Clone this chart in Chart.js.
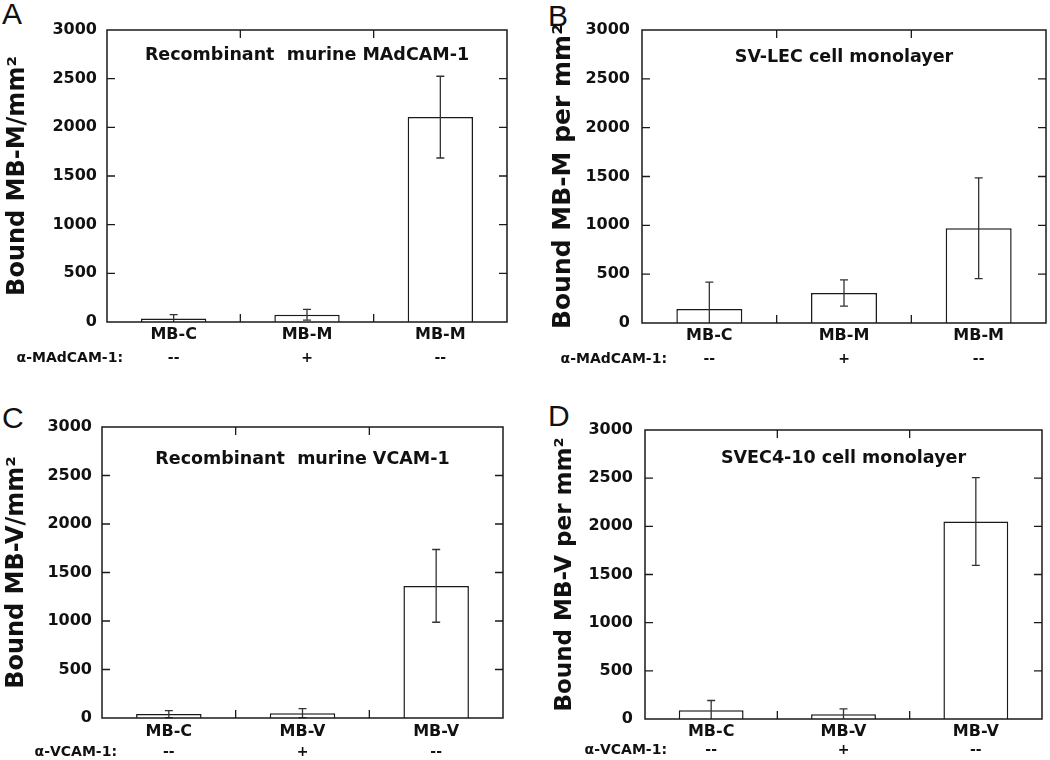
<!DOCTYPE html>
<html>
<head>
<meta charset="utf-8">
<script src="https://cdn.jsdelivr.net/npm/chart.js@4.4.1/dist/chart.umd.min.js"></script>
<style>
  html, body { margin: 0; padding: 0; background: #fff; }
  body { width: 1050px; height: 760px; position: relative; overflow: hidden; }
  canvas { position: absolute; }
  .letter { position: absolute; font: 30px 'Liberation Sans', Arial, sans-serif; line-height: 1; color: #111; }
</style>
</head>
<body>
<div class="letter" style="left:2px;top:-1px">A</div>
<div class="letter" style="left:548px;top:1px">B</div>
<div class="letter" style="left:2px;top:403px">C</div>
<div class="letter" style="left:548px;top:401px">D</div>
<canvas id="chartA" width="525" height="380" style="left:0;top:0"></canvas>
<canvas id="chartB" width="525" height="380" style="left:525px;top:0"></canvas>
<canvas id="chartC" width="525" height="380" style="left:0;top:380px"></canvas>
<canvas id="chartD" width="525" height="380" style="left:525px;top:380px"></canvas>
<script>
// ---- data ----
const yTickValues = [0, 500, 1000, 1500, 2000, 2500, 3000];

const groupsA = ['MB-C', 'MB-M', 'MB-M'];
const antiA   = ['--', '+', '--'];
const meansA  = [35, 75, 2105];
const errA    = [40, 55, 420];

const groupsB = ['MB-C', 'MB-M', 'MB-M'];
const antiB   = ['--', '+', '--'];
const meansB  = [143, 307, 970];
const errB    = [276, 135, 515];

const groupsC = ['MB-C', 'MB-V', 'MB-V'];
const antiC   = ['--', '+', '--'];
const meansC  = [40, 50, 1362];
const errC    = [36, 46, 375];

const groupsD = ['MB-C', 'MB-V', 'MB-V'];
const antiD   = ['--', '+', '--'];
const meansD  = [90, 50, 2050];
const errD    = [102, 55, 455];

const INK = '#1a1a1a';
const FONT = "'DejaVu Sans', sans-serif";

// box, inward ticks, error bars, inner title, antibody row
const panelDecor = {
  id: 'panelDecor',
  afterDatasetsDraw(chart, args, o) {
    const { ctx, chartArea: a, scales: { x, y } } = chart;
    const meta = chart.getDatasetMeta(0);
    ctx.save();
    // error bars
    ctx.strokeStyle = '#333';
    ctx.lineWidth = 1.3;
    meta.data.forEach((bar, i) => {
      const v = o.means[i], e = o.errs[i];
      const yt = y.getPixelForValue(v + e);
      const yb = y.getPixelForValue(Math.max(0, v - e));
      ctx.beginPath();
      ctx.moveTo(bar.x, yt); ctx.lineTo(bar.x, yb);
      ctx.moveTo(bar.x - 4, yt); ctx.lineTo(bar.x + 4, yt);
      if (v - e > 0) { ctx.moveTo(bar.x - 4, yb); ctx.lineTo(bar.x + 4, yb); }
      ctx.stroke();
    });
    // frame
    ctx.strokeStyle = INK;
    ctx.lineWidth = 1.5;
    ctx.strokeRect(a.left, a.top, a.right - a.left, a.bottom - a.top);
    ctx.lineWidth = 1.3;
    ctx.beginPath();
    y.ticks.forEach(t => {
      if (t.value <= 0 || t.value >= 3000) return;
      const py = y.getPixelForValue(t.value);
      ctx.moveTo(a.left, py); ctx.lineTo(a.left + 8, py);
      ctx.moveTo(a.right, py); ctx.lineTo(a.right - 8, py);
    });
    for (let i = 0; i < o.labels.length - 1; i++) {
      const px = (x.getPixelForValue(i) + x.getPixelForValue(i + 1)) / 2;
      ctx.moveTo(px, a.top); ctx.lineTo(px, a.top + 8);
      ctx.moveTo(px, a.bottom); ctx.lineTo(px, a.bottom - 8);
    }
    ctx.stroke();
    // inner title
    ctx.fillStyle = '#111';
    ctx.font = 'bold 17.5px ' + FONT;
    ctx.textAlign = 'center';
    ctx.textBaseline = 'middle';
    ctx.fillText(o.title, (a.left + a.right) / 2, a.top + o.titleDy);
    // antibody row
    const ry = a.bottom + o.rowDy;
    ctx.font = 'bold 14px ' + FONT;
    ctx.textAlign = 'right';
    ctx.fillText(o.rowLabel, a.left + o.rowLabelDx, ry);
    ctx.textAlign = 'center';
    o.signs.forEach((s, i) => ctx.fillText(s, x.getPixelForValue(i), ry));
    ctx.restore();
  }
};

function makePanel(id, p) {
  const el = document.getElementById(id);
  return new Chart(el, {
    type: 'bar',
    data: {
      labels: p.labels,
      datasets: [{
        data: p.means,
        backgroundColor: '#fff',
        borderColor: INK,
        borderWidth: 1.5,
        borderSkipped: 'bottom',
        barPercentage: 0.49,
        categoryPercentage: 1
      }]
    },
    options: {
      responsive: false,
      animation: false,
      layout: { padding: { top: p.padTop, right: p.padRight, left: 0, bottom: 0 } },
      plugins: { legend: { display: false }, tooltip: { enabled: false }, panelDecor: p },
      scales: {
        x: {
          grid: { display: false, drawTicks: false },
          border: { display: false },
          ticks: { color: '#111', font: { family: FONT, weight: 'bold', size: 16 }, padding: p.xPad, maxRotation: 0 },
          afterFit(s) { s.height = p.xHeight; }
        },
        y: {
          min: 0, max: 3000,
          grid: { display: false, drawTicks: false },
          border: { display: false },
          afterBuildTicks(s) { s.ticks = yTickValues.map(v => ({ value: v })); },
          ticks: { color: '#111', font: { family: FONT, weight: 'bold', size: 16 }, padding: p.yPad, callback: v => String(v) },
          title: { display: true, text: p.yTitle, color: '#111', font: { family: FONT, weight: 'bold', size: p.yTitleSize }, padding: { top: p.yTitlePad, bottom: 0 } },
          afterFit(s) { s.width = p.yWidth; }
        }
      }
    },
    plugins: [panelDecor]
  });
}

makePanel('chartA', {
  labels: groupsA, means: meansA, errs: errA, signs: antiA,
  title: 'Recombinant  murine MAdCAM-1', titleDy: 25,
  rowLabel: 'α-MAdCAM-1:', rowLabelDx: 16, rowDy: 36,
  yTitle: 'Bound MB-M/mm²', yTitleSize: 24, yTitlePad: 3,
  padTop: 30, padRight: 18, xHeight: 58, yWidth: 107, xPad: 3, yPad: 10
});
makePanel('chartB', {
  labels: groupsB, means: meansB, errs: errB, signs: antiB,
  title: 'SV-LEC cell monolayer', titleDy: 27,
  rowLabel: 'α-MAdCAM-1:', rowLabelDx: 25, rowDy: 36,
  yTitle: 'Bound MB-M per mm²', yTitleSize: 25, yTitlePad: 23,
  padTop: 30, padRight: 4, xHeight: 57, yWidth: 117, xPad: 3, yPad: 12
});
makePanel('chartC', {
  labels: groupsC, means: meansC, errs: errC, signs: antiC,
  title: 'Recombinant  murine VCAM-1', titleDy: 32,
  rowLabel: 'α-VCAM-1:', rowLabelDx: 15, rowDy: 34,
  yTitle: 'Bound MB-V/mm²', yTitleSize: 24, yTitlePad: 2,
  padTop: 47, padRight: 22, xHeight: 42, yWidth: 102, xPad: 4, yPad: 10
});
makePanel('chartD', {
  labels: groupsD, means: meansD, errs: errD, signs: antiD,
  title: 'SVEC4-10 cell monolayer', titleDy: 28,
  rowLabel: 'α-VCAM-1:', rowLabelDx: 22, rowDy: 31,
  yTitle: 'Bound MB-V per mm²', yTitleSize: 23, yTitlePad: 26,
  padTop: 50, padRight: 8, xHeight: 41, yWidth: 120, xPad: 3, yPad: 12
});
</script>
</body>
</html>
